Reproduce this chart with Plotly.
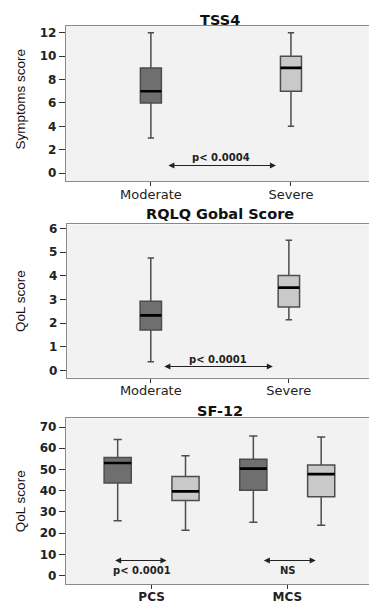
import plotly.graph_objects as go

# ---------------- data ----------------
groups = ["Moderate", "Severe"]

tss4_lower = [3.0, 4.0]
tss4_q1 = [6.0, 7.0]
tss4_median = [7.0, 9.0]
tss4_q3 = [9.0, 10.0]
tss4_upper = [12.0, 12.0]

rqlq_lower = [0.37, 2.14]
rqlq_q1 = [1.71, 2.68]
rqlq_median = [2.33, 3.5]
rqlq_q3 = [2.93, 4.01]
rqlq_upper = [4.75, 5.5]

sf12_cats = ["PCS", "MCS"]
sf12_mod_lower = [25.8, 25.1]
sf12_mod_q1 = [43.6, 40.2]
sf12_mod_median = [53.1, 50.4]
sf12_mod_q3 = [55.6, 54.8]
sf12_mod_upper = [64.1, 65.8]
sf12_sev_lower = [21.4, 23.7]
sf12_sev_q1 = [35.4, 37.2]
sf12_sev_median = [39.7, 47.8]
sf12_sev_q3 = [46.7, 52.1]
sf12_sev_upper = [56.5, 65.3]

panel_titles = ["TSS4", "RQLQ Gobal Score", "SF-12"]
y_titles = ["Symptoms score", "QoL score", "QoL score"]
p_labels = ["p< 0.0004", "p< 0.0001", "p< 0.0001", "NS"]

# ---------------- style ----------------
PAGE_W, PAGE_H = 377, 604
OFF = 8  # default body margin of the html page
W, H = PAGE_W - OFF, PAGE_H - OFF
DARK = "#6f6f6f"
LIGHT = "#c9c9c9"
OUTLINE = "#4d4d4d"
BG = "#f2f2f2"
BORDER = "#8a8a8a"
NUM_FONT = "DejaVu Sans"
LBL_FONT = "Liberation Sans"

def px_x(p):
    return (p - OFF) / W

def px_y(p):
    return 1 - (p - OFF) / H

# panel pixel boxes in page coordinates: (left, right, top, bottom)
panels = [(66, 377, 23, 180), (67, 377, 224, 379), (66, 377, 420, 588)]
title_centers = [17.5, 213, 413]

fig = go.Figure()

def add_box(xaxis, yaxis, x, q1, med, q3, lo, hi, fill, width=None, og=None):
    common = dict(x=x, xaxis=xaxis, yaxis=yaxis, boxpoints=False, showlegend=False,
                  hoverinfo="skip")
    if width is not None:
        common["width"] = width
    if og is not None:
        common["offsetgroup"] = og
    fig.add_trace(go.Box(q1=q1, median=med, q3=q3, lowerfence=lo, upperfence=hi,
                         fillcolor=fill, line=dict(color=OUTLINE, width=1.5),
                         whiskerwidth=0.3, **common))
    # black median bar drawn on top
    fig.add_trace(go.Box(q1=med, median=med, q3=med, lowerfence=med, upperfence=med,
                         fillcolor="rgba(0,0,0,0)", line=dict(color="#000000", width=2.6),
                         whiskerwidth=0, **common))

# panel 1
add_box("x", "y", [groups[0]], [tss4_q1[0]], [tss4_median[0]], [tss4_q3[0]],
        [tss4_lower[0]], [tss4_upper[0]], DARK, width=0.15)
add_box("x", "y", [groups[1]], [tss4_q1[1]], [tss4_median[1]], [tss4_q3[1]],
        [tss4_lower[1]], [tss4_upper[1]], LIGHT, width=0.15)
# panel 2
add_box("x2", "y2", [groups[0]], [rqlq_q1[0]], [rqlq_median[0]], [rqlq_q3[0]],
        [rqlq_lower[0]], [rqlq_upper[0]], DARK, width=0.155)
add_box("x2", "y2", [groups[1]], [rqlq_q1[1]], [rqlq_median[1]], [rqlq_q3[1]],
        [rqlq_lower[1]], [rqlq_upper[1]], LIGHT, width=0.155)
# panel 3 (grouped)
add_box("x3", "y3", sf12_cats, sf12_mod_q1, sf12_mod_median, sf12_mod_q3,
        sf12_mod_lower, sf12_mod_upper, DARK, og="mod")
add_box("x3", "y3", sf12_cats, sf12_sev_q1, sf12_sev_median, sf12_sev_q3,
        sf12_sev_lower, sf12_sev_upper, LIGHT, og="sev")

xranges = [[-0.607, 1.607], [-0.608, 1.631], [-0.632, 1.654]]
yranges = [[-0.67, 12.6], [-0.3, 6.17], [-4.05, 74.2]]
dticks = [2, 1, 10]
xcats = [groups, groups, sf12_cats]

layout = dict(
    width=W, height=H, margin=dict(l=0, r=0, t=0, b=0),
    paper_bgcolor="white", plot_bgcolor=BG,
    boxmode="group", boxgap=0.0, boxgroupgap=0.6,
    annotations=[], showlegend=False,
)

for i, (l, r, t, b) in enumerate(panels):
    sfx = "" if i == 0 else str(i + 1)
    bold_x = (i == 2)
    layout["xaxis" + sfx] = dict(
        domain=[px_x(l), min(1.0, px_x(r))], anchor="y" + sfx, type="category",
        categoryorder="array", categoryarray=xcats[i], range=xranges[i],
        showline=True, mirror=True, linecolor=BORDER, linewidth=1.2,
        ticks="outside", ticklen=4, tickcolor="#333", tickwidth=1.2,
        ticklabelstandoff=-3,
        showgrid=False, zeroline=False, fixedrange=True,
        tickfont=dict(family=NUM_FONT, size=12 if bold_x else 13,
                      color="#222", weight="bold" if bold_x else "normal"),
    )
    layout["yaxis" + sfx] = dict(
        domain=[px_y(b), px_y(t)], anchor="x" + sfx, range=yranges[i], dtick=dticks[i],
        showline=True, mirror=True, linecolor=BORDER, linewidth=1.2,
        ticks="outside", ticklen=6, tickcolor="#333", tickwidth=1.2,
        showgrid=False, zeroline=False, fixedrange=True,
        tickfont=dict(family=NUM_FONT, size=12, color="#222", weight="bold"),
    )
    # panel title
    layout["annotations"].append(dict(
        text=panel_titles[i], xref="paper", yref="paper",
        x=px_x((66 + 376) / 2), y=px_y(title_centers[i]), xanchor="center",
        yanchor="middle", showarrow=False, borderpad=0,
        font=dict(family=NUM_FONT, size=14.5, color="#111", weight="bold")))
    # y axis title
    layout["annotations"].append(dict(
        text=y_titles[i], xref="paper", yref="paper",
        x=px_x(20), y=px_y((t + b) / 2 - (5 if i == 0 else 0)),
        xanchor="center", yanchor="middle", textangle=-90, showarrow=False,
        font=dict(family=LBL_FONT, size=13.5, color="#111")))

# comparison arrows and p-value labels: (xref, yref, x_start, x_end, y_arrow, x_text, y_text, label)
comparisons = [
    ("x", "y", 0.114, 0.893, 0.65, 0.5, 1.35, p_labels[0]),
    ("x2", "y2", 0.087, 0.884, 0.17, 0.486, 0.47, p_labels[1]),
    ("x3", "y3", -0.28, 0.11, 7.1, -0.074, 2.4, p_labels[2]),
    ("x3", "y3", 0.816, 1.21, 7.1, 1.007, 2.4, p_labels[3]),
]
for xr, yr, xs, xe, ya, xt, yt, lab in comparisons:
    layout["annotations"].append(dict(
        xref=xr, yref=yr, axref=xr, ayref=yr, x=xe, y=ya, ax=xs, ay=ya,
        text="", showarrow=True, arrowhead=2, arrowsize=1.1, arrowwidth=1.1,
        arrowside="end+start", arrowcolor="#222", standoff=0, startstandoff=0))
    layout["annotations"].append(dict(
        xref=xr, yref=yr, x=xt, y=yt, text=lab, showarrow=False,
        xanchor="center", yanchor="middle",
        font=dict(family=NUM_FONT, size=10, color="#222", weight="bold")))

fig.update_layout(**layout)
fig.write_html("out.html")
